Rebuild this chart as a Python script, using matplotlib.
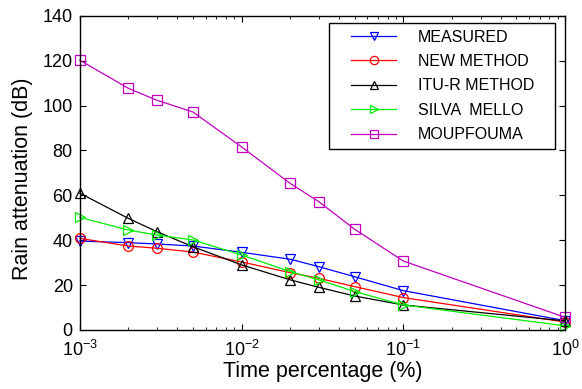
import matplotlib
matplotlib.use("Agg")
import matplotlib.pyplot as plt
from matplotlib.legend_handler import HandlerLine2D

plt.rcParams['font.family'] = ['Liberation Sans', 'DejaVu Sans']
plt.rcParams['mathtext.fontset'] = 'custom'
plt.rcParams['mathtext.rm'] = 'Liberation Sans'
plt.rcParams['mathtext.it'] = 'Liberation Sans'

# time percentage (%)
pct = [0.001, 0.002, 0.003, 0.005, 0.01, 0.02, 0.03, 0.05, 0.1, 1]

# rain attenuation (dB)
measured = [39.6, 38.9, 38.3, 37.4, 34.6, 31.5, 28.2, 23.7, 17.5, 4.1]
new_method = [40.8, 37.4, 36.4, 34.7, 30.3, 25.5, 23.0, 19.3, 14.4, 3.5]
itur = [61.0, 49.7, 43.8, 37.1, 29.0, 22.3, 19.0, 15.1, 11.1, 4.0]
silva = [50.2, 44.5, 42.3, 40.1, 33.4, 26.0, 22.3, 17.1, 11.1, 1.8]
moupfouma = [120.3, 107.7, 102.4, 97.2, 81.6, 65.3, 57.2, 44.9, 30.7, 5.6]

names = ["MEASURED", "NEW METHOD", "ITU-R METHOD", "SILVA  MELLO", "MOUPFOUMA"]
yticks = [0, 20, 40, 60, 80, 100, 120, 140]


class PaddedLine(HandlerLine2D):
    # leave some blank room left of the legend line, like the original
    def create_artists(self, legend, orig_handle, xdescent, ydescent,
                       width, height, fontsize, trans):
        pad = 1.0 * fontsize
        return super().create_artists(legend, orig_handle, xdescent - pad,
                                      ydescent, width - pad, height,
                                      fontsize, trans)


fig = plt.figure(figsize=(5.82, 3.89), dpi=100)
ax = fig.add_axes([0.137, 0.152, 0.834, 0.807])

series = [measured, new_method, itur, silva, moupfouma]
colors = ['#0000ff', '#ff0000', '#000000', '#00ee00', '#c000c0']
markers = ['v', 'o', '^', '>', 's']
lines = []
for ys, c, m, name in zip(series, colors, markers, names):
    ln, = ax.plot(pct, ys, color=c, marker=m, markersize=7,
                  markerfacecolor='none', markeredgecolor=c, linewidth=0.9,
                  markeredgewidth=0.9, label=name, clip_on=False)
    lines.append(ln)

ax.set_xscale('log')
ax.set_xlim(1e-3, 1)
ax.set_ylim(0, 140)
ax.set_yticks(yticks)
ax.tick_params(which='both', direction='in', top=True, right=True,
               labelsize=13)
ax.tick_params(axis='x', which='major', pad=7)
ax.tick_params(axis='y', which='major', pad=5)
ax.tick_params(which='major', length=4)
ax.tick_params(which='minor', length=2.5)
for s in ax.spines.values():
    s.set_linewidth(1.0)

ax.set_xlabel("Time percentage (%)", fontsize=15.5, labelpad=1)
ax.set_ylabel("Rain attenuation (dB)", fontsize=15.5)
ax.yaxis.set_label_coords(-0.097, 0.481)

leg = ax.legend(handles=lines, loc='upper left',
                bbox_to_anchor=(0.513, 0.5, 0.466, 0.478), mode='expand',
                borderaxespad=0, fontsize=11.5, handlelength=3.8,
                labelspacing=0.59, handletextpad=1.375, borderpad=0.42,
                fancybox=False, framealpha=1, edgecolor='black',
                handler_map={ln: PaddedLine() for ln in lines})
leg.get_frame().set_linewidth(1.0)
for h in leg.legend_handles:
    h.set_markersize(6)

fig.savefig("out.png", dpi=100)
